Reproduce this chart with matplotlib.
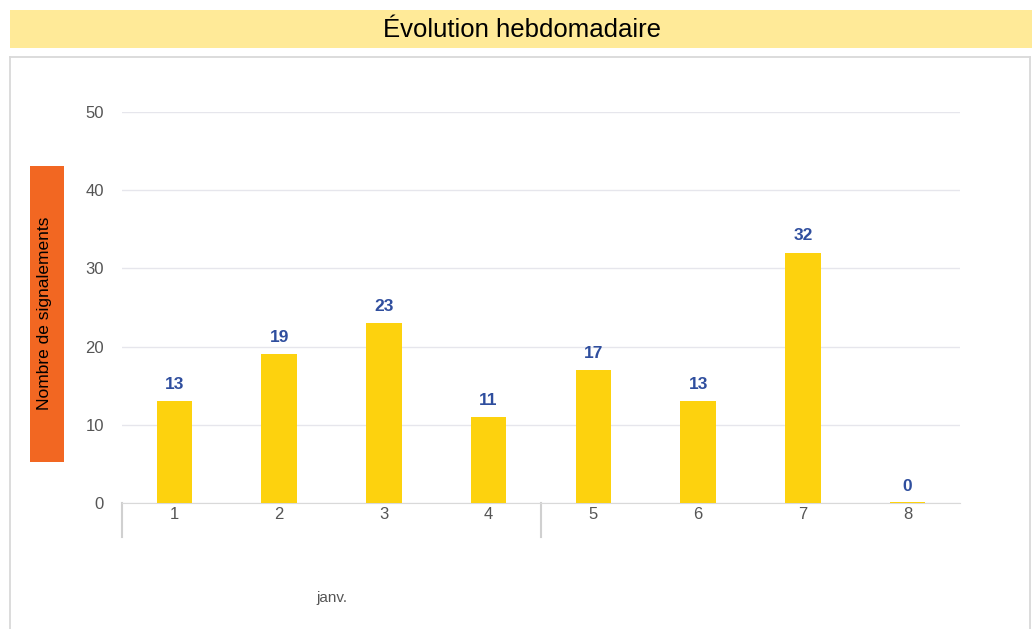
import matplotlib
matplotlib.use('Agg')
import matplotlib.pyplot as plt
from matplotlib.patches import Rectangle
from matplotlib.lines import Line2D

plt.rcParams['font.family'] = ['Liberation Sans', 'DejaVu Sans']

# Data
weeks = ['1', '2', '3', '4', '5', '6', '7', '8']
counts = [13, 19, 23, 11, 17, 13, 32, 0]
month_label = 'janv.'
title = 'Évolution hebdomadaire'
ylabel = 'Nombre de signalements'
yticks = [0, 10, 20, 30, 40, 50]

W, H = 1032, 629
fig = plt.figure(figsize=(W / 100, H / 100), dpi=100)
fig.patch.set_facecolor('white')


def fx(px):
    return px / W


def fy(py):
    return 1 - py / H


# Title band
fig.patches.append(Rectangle((fx(10), fy(48)), fx(1032 - 10), 38 / H,
                             transform=fig.transFigure, facecolor='#FFEA98',
                             edgecolor='none', zorder=0))
fig.text(fx(522), fy(30), title, ha='center', va='center', fontsize=18.5, color='black')

# Outer frame of the chart area
frame_col = '#D9D9D9'
for xs, ys in [([10, 10], [57, 629]), ([10, 1030], [57, 57]), ([1030, 1030], [57, 629])]:
    fig.lines.append(Line2D([fx(v) for v in xs], [fy(v) for v in ys],
                            transform=fig.transFigure, color=frame_col, lw=1.3))

# Orange y-label box
fig.patches.append(Rectangle((fx(30), fy(462)), fx(34), 296 / H,
                             transform=fig.transFigure, facecolor='#F26722',
                             edgecolor='none'))
fig.text(fx(45), fy(313), ylabel, rotation=90, ha='center', va='center',
         fontsize=12.5, color='black')

# Axes
ax = fig.add_axes([fx(122), fy(503), fx(960 - 122), (503 - 112) / H])
x = list(range(len(weeks)))
ax.bar(x, counts, width=0.34, color='#FDD20E', zorder=3)
for xi, c in zip(x, counts):
    if c == 0:
        ax.bar(xi, 0.15, width=0.34, color='#FDD20E', zorder=3)
    ax.text(xi, c + 1.2, str(c), ha='center', va='bottom', fontsize=12.5,
            fontweight='bold', color='#2F4E9E')

ax.set_xlim(-0.5, len(weeks) - 0.5)
ax.set_ylim(0, 50)
ax.set_yticks(yticks)
ax.set_yticklabels([str(t) for t in yticks], fontsize=12, color='#555555')
ax.set_xticks(x)
ax.set_xticklabels(weeks, fontsize=12, color='#555555')
ax.tick_params(length=0, pad=3)
ax.tick_params(axis='y', pad=13)
ax.grid(axis='y', color='#E6E6EC', lw=1, zorder=0)
for s in ['top', 'right', 'left']:
    ax.spines[s].set_visible(False)
ax.spines['bottom'].set_color('#D9D9D9')
ax.set_facecolor('none')

# Group separators and month label
trans = ax.get_xaxis_transform()
for xs in [-0.5, 3.5]:
    ax.plot([xs, xs], [0, -34 / (503 - 112)], transform=trans, color='#D0D0D0',
            lw=1.5, clip_on=False)
ax.text(1.5, -95 / (503 - 112), month_label, transform=trans, ha='center', va='center',
        fontsize=11, color='#555555')

fig.savefig('out.png', dpi=100)
